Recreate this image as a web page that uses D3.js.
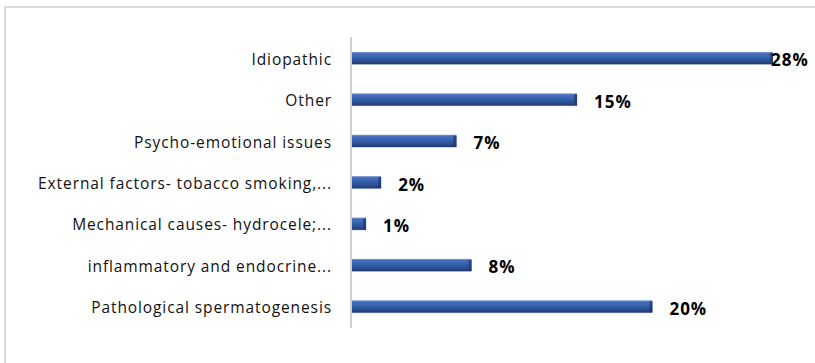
<!DOCTYPE html>
<html>
<head>
<meta charset="utf-8">
<script src="https://cdn.jsdelivr.net/npm/d3@7/dist/d3.min.js"></script>
<style>
  html, body { margin: 0; padding: 0; background: #fff; }
  svg { display: block; }
</style>
</head>
<body>
<svg id="chart" width="815" height="363"></svg>
<script>
// Causes of male infertility, share of cases (%)
const categories = [
  "Idiopathic",
  "Other",
  "Psycho-emotional issues",
  "External factors- tobacco smoking,...",
  "Mechanical causes- hydrocele;...",
  "inflammatory and endocrine...",
  "Pathological spermatogenesis"
];
const values = [28, 15, 7, 2, 1, 8, 20];
const valueLabels = values.map(v => v + "%");

const svg = d3.select("#chart");
const W = 815, H = 363;

// chart frame
svg.append("rect")
  .attr("x", 5).attr("y", 7)
  .attr("width", W + 20).attr("height", H + 20)
  .attr("fill", "#fff")
  .attr("stroke", "#d9d9d9")
  .attr("stroke-width", 2);

const x = d3.scaleLinear().domain([0, 28]).range([351, 773]);
const y = d3.scaleBand().domain(categories).range([37, 328])
  .paddingInner(0.69).paddingOuter(0.36);

// bar gradient (bevelled look)
const defs = svg.append("defs");
const grad = defs.append("linearGradient").attr("id", "barGrad")
  .attr("x1", 0).attr("y1", 0).attr("x2", 0).attr("y2", 1);
[[0, "#8fa6d4"], [0.12, "#4670bd"], [0.45, "#3760ac"], [0.75, "#2a4c8e"], [0.92, "#213d75"], [1, "#9fb0d3"]]
  .forEach(([o, c]) => grad.append("stop").attr("offset", o).attr("stop-color", c));

const rows = svg.append("g").selectAll("g").data(categories).join("g");

rows.append("rect")
  .attr("x", x(0) - 1)
  .attr("y", d => y(d))
  .attr("width", (d, i) => x(values[i]) - x(0) + 1)
  .attr("height", y.bandwidth())
  .attr("fill", "url(#barGrad)");

// darker caps on both ends of each bar
rows.append("rect")
  .attr("x", (d, i) => x(values[i]) - 3)
  .attr("y", d => y(d) + 1)
  .attr("width", 3)
  .attr("height", y.bandwidth() - 2)
  .attr("fill", "#1f3768")
  .attr("opacity", 0.7);
rows.append("rect")
  .attr("x", x(0) - 1)
  .attr("y", d => y(d) + 1)
  .attr("width", 2)
  .attr("height", y.bandwidth() - 2)
  .attr("fill", "#1f3768")
  .attr("opacity", 0.8);

// vertical category axis
const axis = svg.append("g").attr("transform", `translate(${x(0)},0)`)
  .call(d3.axisLeft(y).tickSize(0).tickPadding(19));
axis.select(".domain").attr("stroke", "#d0d0d0").attr("stroke-width", 2)
  .attr("d", `M0,37V328`);
axis.selectAll("text")
  .attr("font-family", "'Open Sans', Lato, sans-serif")
  .attr("font-size", 15.5)
  .attr("letter-spacing", 0.9)
  .attr("dy", "0.42em")
  .attr("fill", "#111");

// value labels
rows.append("text")
  .attr("x", (d, i) => Math.min(x(values[i]) + 17, 771))
  .attr("y", d => y(d) + y.bandwidth() / 2 + 1.5)
  .attr("dominant-baseline", "central")
  .attr("font-family", "'Open Sans', Lato, sans-serif")
  .attr("font-weight", "bold")
  .attr("font-size", 17)
  .attr("letter-spacing", 1)
  .attr("fill", "#000")
  .text((d, i) => valueLabels[i]);
</script>
</body>
</html>
